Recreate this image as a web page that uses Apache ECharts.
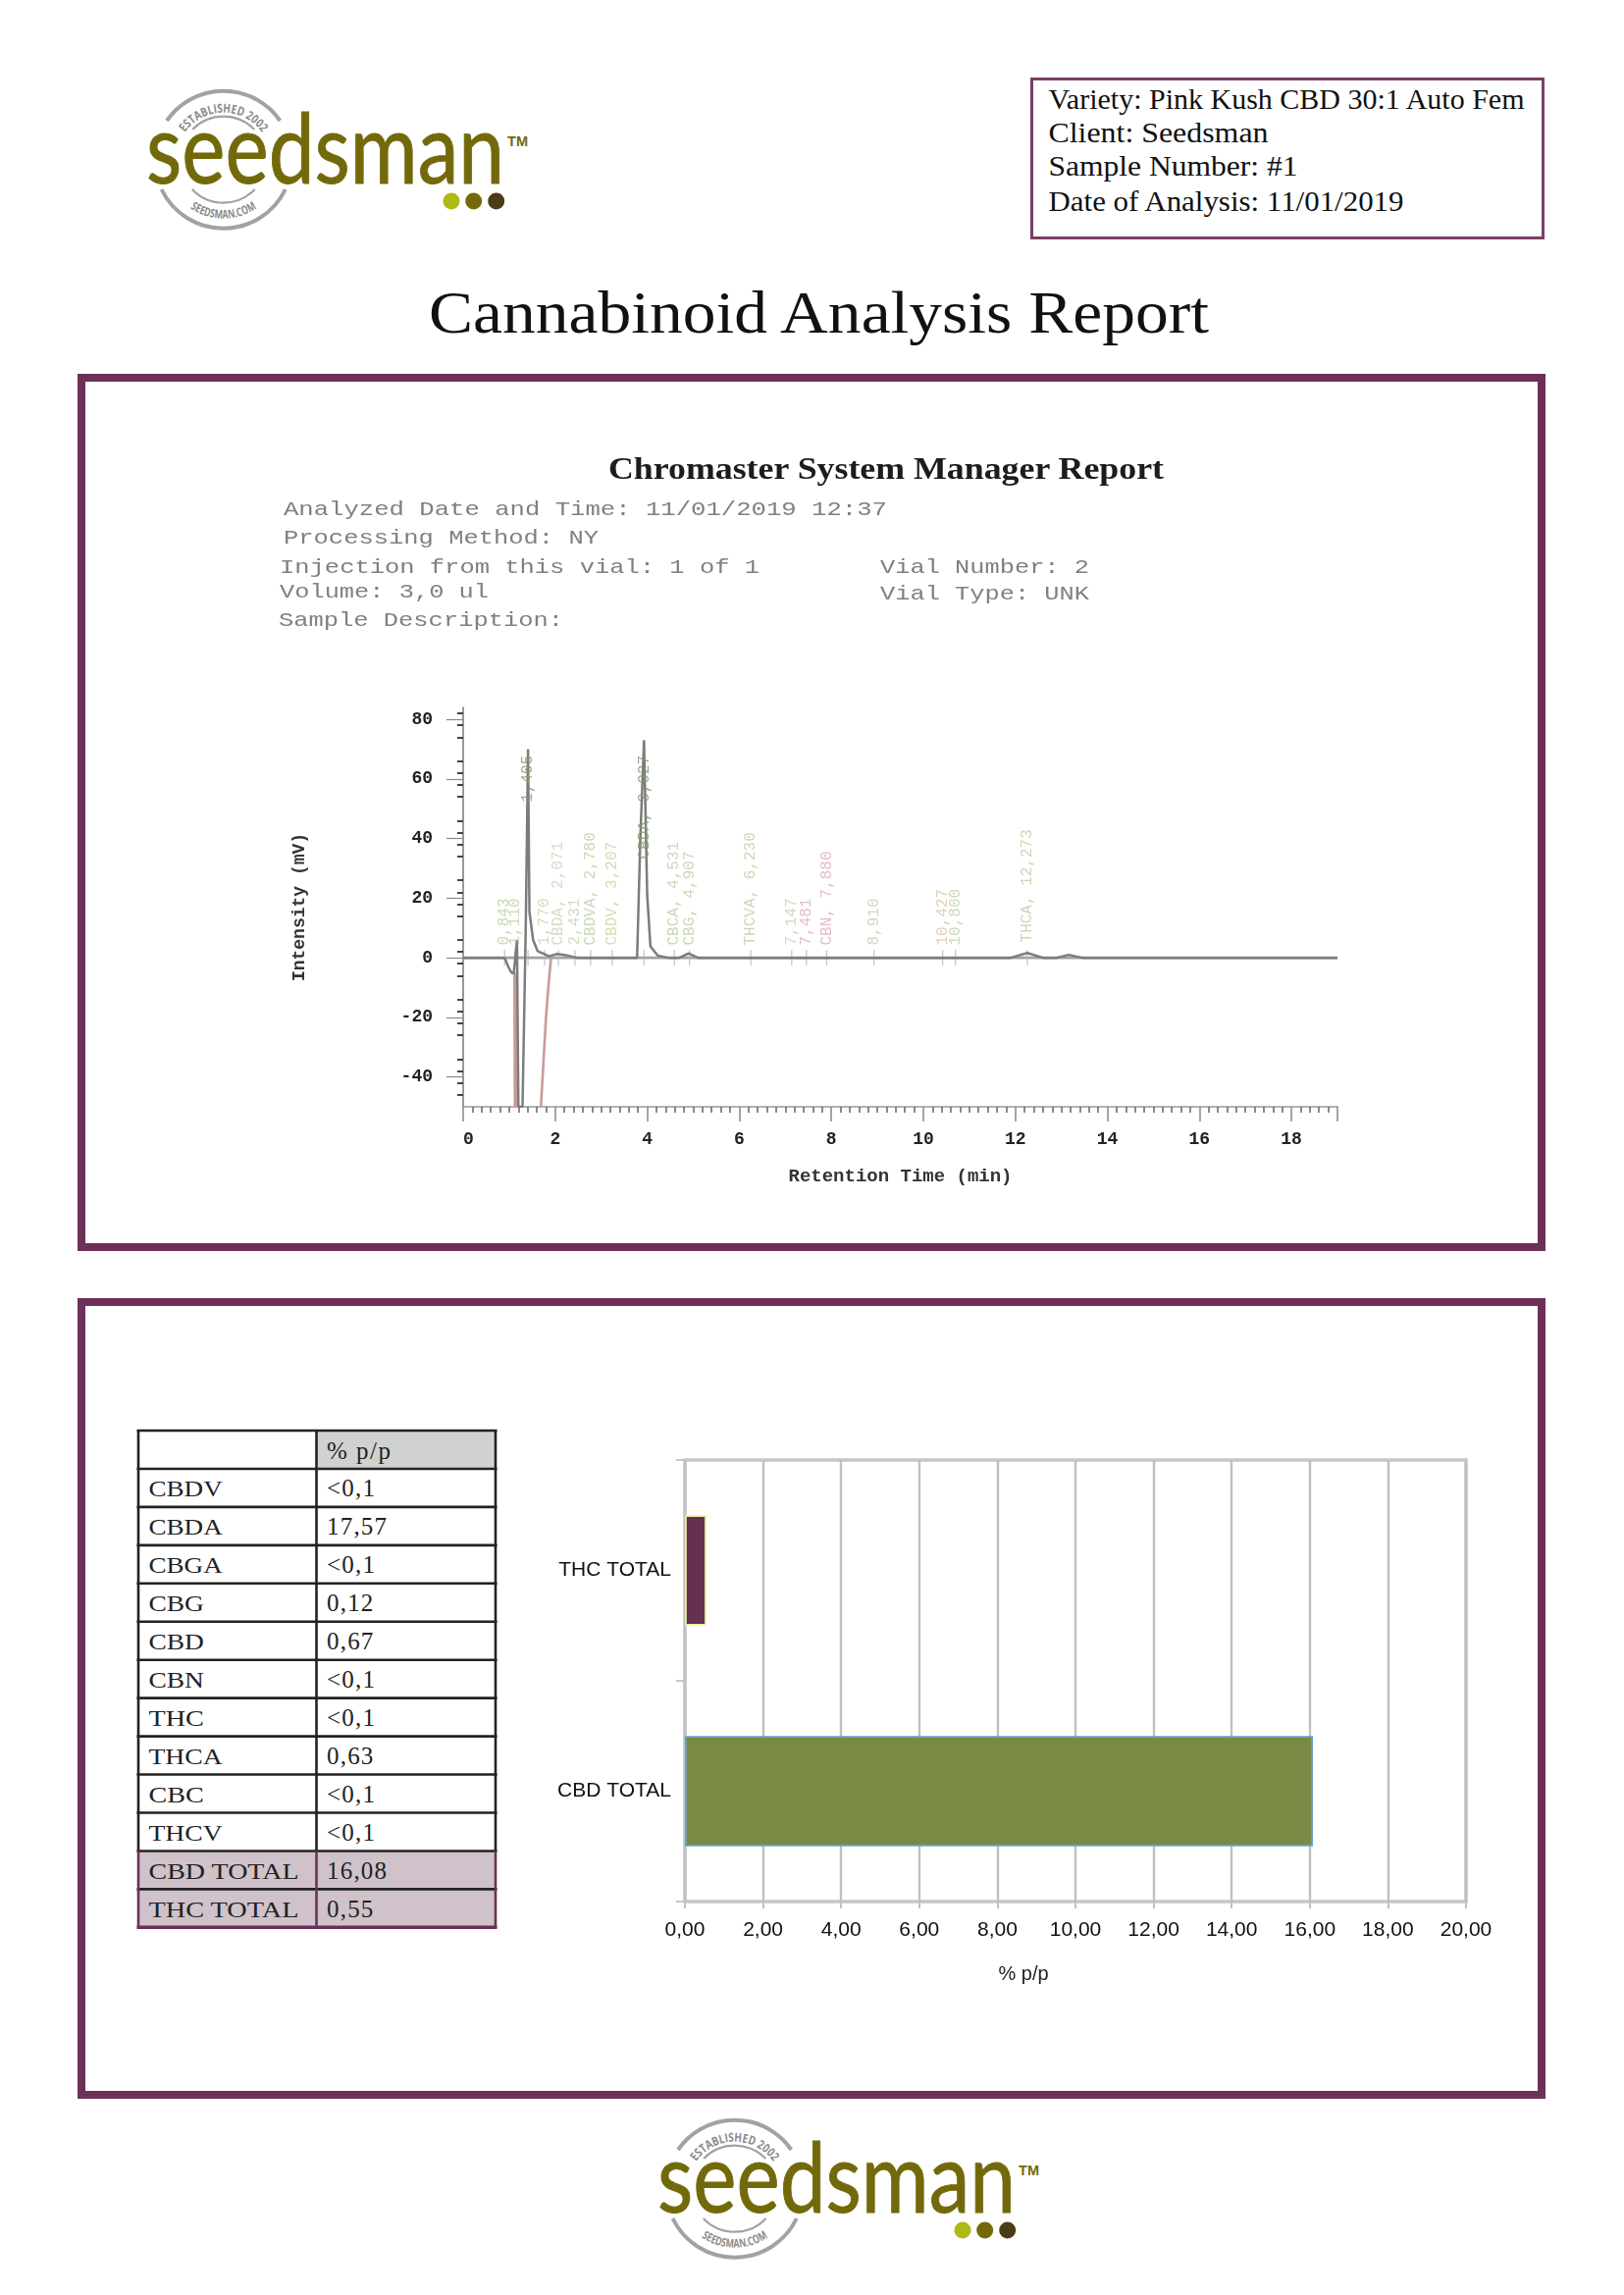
<!DOCTYPE html>
<html><head><meta charset="utf-8">
<style>
html,body{margin:0;padding:0;background:#fff;width:1655px;height:2339px;overflow:hidden}
#page{position:absolute;left:0;top:0}
#chromatogram{position:absolute;left:270px;top:690px;width:1130px;height:540px;filter:blur(0.7px)}
#barchart{position:absolute;left:540px;top:1460px;width:1010px;height:600px;filter:blur(0.3px)}
</style>
<script src="https://cdn.jsdelivr.net/npm/echarts@6/dist/echarts.min.js"></script>
</head><body>
<svg id="page" xmlns="http://www.w3.org/2000/svg" width="1655" height="2339" viewBox="0 0 1655 2339"></svg>
<div id="chromatogram"></div>
<div id="barchart"></div>
<script>
// ---- Data ----
const infoLines = ["Variety: Pink Kush CBD 30:1 Auto Fem","Client: Seedsman","Sample Number: #1","Date of Analysis: 11/01/2019"];
const reportTitle = "Cannabinoid Analysis Report";
const systemTitle = "Chromaster System Manager Report";
const systemLines = [
  ["Analyzed Date and Time: 11/01/2019 12:37",289,525,615],
  ["Processing Method: NY",289,554,321],
  ["Injection from this vial: 1 of 1",285,584,489],
  ["Vial Number: 2",897,584,213],
  ["Volume: 3,0 ul",285,609,213],
  ["Vial Type: UNK",897,611,213],
  ["Sample Description:",284,638,290]
];
const tableCompounds = ["CBDV","CBDA","CBGA","CBG","CBD","CBN","THC","THCA","CBC","THCV","CBD TOTAL","THC TOTAL"];
const tableValues = ["<0,1","17,57","<0,1","0,12","0,67","<0,1","<0,1","0,63","<0,1","<0,1","16,08","0,55"];

const traceTime = [0,0.85,0.91,0.98,1.05,1.10,1.17,1.20,1.29,1.36,1.41,1.44,1.52,1.62,1.87,2.04,2.23,2.47,3.6,3.78,3.85,3.93,4.00,4.07,4.23,4.46,4.70,4.90,5.10,6,8,10,11.9,12.26,12.6,12.9,13.16,13.45,15,17,19];
const traceMv   = [0,0,-0.3,-3,-5,-5.2,6,-50,-50,10,70,15.5,6,2.2,0.5,1.3,0.9,0,0,0,40,73,20.9,3.8,0.7,0,0,1.5,0,0,0,0,0,1.6,0,0,1,0,0,0,0];
const baseTime = [0,19];
const baseMv = [0,0];
const redLeftTime = [1.13,1.14];
const redLeftMv = [-5,-50];
const redRightTime = [1.69,1.80,1.856,1.91];
const redRightMv = [-50,-20,-9,0];

const peakTime  = [0.90,1.13,1.41,1.77,2.07,2.43,2.77,3.24,3.93,4.59,4.92,6.25,7.14,7.46,7.90,8.93,10.42,10.70,12.26];
const peakText  = ["0,843","1,110","1,405","1,770","CBDA, 2,071","2,431","CBDVA, 2,780","CBDV, 3,207","CBDA, 3,927","CBCA, 4,531","CBG, 4,907","THCVA, 6,230","7,147","7,481","CBN, 7,880","8,910","10,427","10,800","THCA, 12,273"];
const peakLabelMv = [4,4,52,4,4,4,4,4,33,4,4,4,4,4,4,4,4,4,5];
const peakTone  = ["#bcd0a4","#bcd0a4","#7f9a6a","#c6d6b2","#c6d6b2","#c6d6b2","#bcd0a4","#c8d69e","#7f9a6a","#bcd0a4","#bcd0a4","#bcd0a4","#c6cfb4","#dcaeb4","#dcaeb4","#c4ceb6","#d6c6a4","#bcd0b4","#bcd0a4"];

const barCategories = ["CBD TOTAL","THC TOTAL"];
const barValues = [16.08,0.55];
const barFill = ["#7a8a45","#66304f"];
const barEdge = ["#6a9fc9","#eeee9c"];
const xTickFormat = v => v.toFixed(2).replace('.',',');

// ---- Page furniture (frames, headings, table, logos) ----
const PURPLE = "#6d3058";
let s = "";
function rect(x,y,w,h,fill,stroke,sw){return `<rect x="${x}" y="${y}" width="${w}" height="${h}" fill="${fill}" stroke="${stroke||'none'}" stroke-width="${sw||0}"/>`;}
function esc(t){return t.replace(/&/g,'&amp;').replace(/</g,'&lt;');}
function text(t,x,y,size,fam,fill,extra){return `<text x="${x}" y="${y}" font-size="${size}" font-family="${fam}" fill="${fill}" ${extra||''}>${esc(t)}</text>`;}
const SERIF = "'Liberation Serif'";
const MONO = "'Liberation Mono'";

// logo definition
s += `<defs><g id="logo">
<path d="M170,123 A70,70 0 0 1 285.4,123" fill="none" stroke="#a2a2a2" stroke-width="4"/>
<path d="M164.6,193 A70,70 0 0 0 290.8,193" fill="none" stroke="#a2a2a2" stroke-width="4"/>
<path d="M196.2,132 A44,44 0 0 1 259.2,132" fill="none" stroke="#a2a2a2" stroke-width="2.2"/>
<path d="M195.8,193 A44,44 0 0 0 259.6,193" fill="none" stroke="#a2a2a2" stroke-width="2.2"/>
<path id="arcTop" d="M179.7,162.7 A48,48 0 0 1 275.7,162.7" fill="none"/>
<path id="arcBot" d="M167.7,162.7 A60,60 0 0 0 287.7,162.7" fill="none"/>
<text font-size="12.5" font-family="'Open Sans'" font-weight="700" fill="#8c8c8c"><textPath href="#arcTop" startOffset="50%" text-anchor="middle" textLength="92" lengthAdjust="spacingAndGlyphs">ESTABLISHED 2002</textPath></text>
<text font-size="12" font-family="'Open Sans'" font-weight="700" fill="#8c8c8c"><textPath href="#arcBot" startOffset="50%" text-anchor="middle" textLength="72" lengthAdjust="spacingAndGlyphs">SEEDSMAN.COM</textPath></text>
<text x="149" y="186.5" font-size="98" font-family="Lato" fill="#726a0a" stroke="#726a0a" stroke-width="0.9" textLength="365" lengthAdjust="spacingAndGlyphs">seedsman</text>
<text x="517" y="149" font-size="15" font-family="'Liberation Sans'" font-weight="700" fill="#726a0a" textLength="21" lengthAdjust="spacingAndGlyphs">TM</text>
<circle cx="460" cy="205" r="8.5" fill="#b0b814"/><circle cx="482.7" cy="205" r="8.5" fill="#726a0a"/><circle cx="505.7" cy="205" r="8.5" fill="#4a3d15"/>
</g></defs>`;
s += `<use href="#logo"/><use href="#logo" transform="translate(521,2068)"/>`;

// info box
s += rect(1051.5,80.5,521,162,"#fff","#7a3f66",3);
const infoW = [485,224,254,362], infoY = [111,145,179,215];
infoLines.forEach((t,i)=>{ s += text(t,1068.5,infoY[i],29,SERIF,"#111",`textLength="${infoW[i]}" lengthAdjust="spacingAndGlyphs"`); });

// title
s += text(reportTitle,437,339,62,SERIF,"#111",`textLength="795" lengthAdjust="spacingAndGlyphs"`);

// frames
s += rect(83,385,1488,886,"#fff",PURPLE,8);
s += rect(83,1327,1488,808,"#fff",PURPLE,8);

// system header
s += `<g style="filter:blur(0.5px)">`;
s += text(systemTitle,620,487.5,31,SERIF,"#1c1c1c",`font-weight="700" textLength="566" lengthAdjust="spacingAndGlyphs"`);
systemLines.forEach(l=>{ s += text(l[0],l[1],l[2],21,MONO,"#808080",`textLength="${l[3]}" lengthAdjust="spacingAndGlyphs"`); });
s += `</g>`;

// table
const tL=141,tM=322.5,tR=505,tT=1458,rowH=38.95;
s += rect(tM,tT,tR-tM,rowH,"#d0d2d0");
const nRows = tableCompounds.length+1;
s += rect(tL,tT+rowH*11,tR-tL,rowH*2,"#cfc2cb");
for(let r=0;r<=nRows;r++){
  const y=tT+r*rowH; const col = r===13 ? PURPLE : "#222";
  s += `<line x1="${tL-1.5}" x2="${tR+1.5}" y1="${y}" y2="${y}" stroke="${col}" stroke-width="${r===13?3.5:2.6}"/>`;
}
[tL,tM,tR].forEach(x=>{
  s += `<line x1="${x}" x2="${x}" y1="${tT}" y2="${tT+rowH*11}" stroke="#222" stroke-width="2.6"/>`;
  s += `<line x1="${x}" x2="${x}" y1="${tT+rowH*11}" y2="${tT+rowH*13}" stroke="${PURPLE}" stroke-width="2.6"/>`;
});
s += text("% p/p",333,tT+29,25,SERIF,"#222",'letter-spacing="1.5"');
tableCompounds.forEach((c,i)=>{
  const y=tT+rowH*(i+1)+28.5;
  s += text(c,151.5,y,24,SERIF,"#222",`textLength="${c.length>5?153:c.length*18.8}" lengthAdjust="spacingAndGlyphs"`);
  s += text(tableValues[i],333,y,25,SERIF,"#222",'letter-spacing="1.2"');
});
document.getElementById('page').innerHTML = s;

// ---- Chromatogram ----
const zip = (a,b)=>a.map((v,i)=>[v,b[i]]);
const mono = "'Liberation Mono'";
const chrom = echarts.init(document.getElementById('chromatogram'));
chrom.setOption({
  animation:false,
  grid:{left:202,right:37,top:31,bottom:102},
  xAxis:{type:'value',min:0,max:19,interval:2,
    name:'Retention Time (min)',nameLocation:'middle',nameGap:62,
    nameTextStyle:{fontFamily:mono,fontSize:19,fontWeight:'bold',color:'#333'},
    axisLine:{lineStyle:{color:'#999',width:1.5},onZero:false},
    axisTick:{length:15,lineStyle:{color:'#888',width:1.5}},
    minorTick:{show:true,splitNumber:10,length:6,lineStyle:{color:'#666',width:1.5}},
    splitLine:{show:false},
    axisLabel:{fontFamily:mono,fontSize:18,fontWeight:'bold',color:'#222',margin:24,showMaxLabel:false,alignMinLabel:'left'}},
  yAxis:{type:'value',min:-50,max:84,interval:20,
    name:'Intensity (mV)',nameLocation:'middle',nameGap:158,nameRotate:90,
    nameTextStyle:{fontFamily:mono,fontSize:18,fontWeight:'bold',color:'#333'},
    axisLine:{onZero:false,lineStyle:{color:'#777',width:1.5}},
    axisTick:{length:17,lineStyle:{color:'#888',width:1.2},customValues:[80,60,40,20,0,-20,-40]},
    minorTick:{show:true,splitNumber:5,length:6,lineStyle:{color:'#444',width:2}},
    splitLine:{show:false},
    axisLabel:{fontFamily:mono,fontSize:18,fontWeight:'bold',color:'#222',margin:31,
      customValues:[80,60,40,20,0,-20,-40]}},
  series:[
    {name:'baseline',type:'line',data:zip(baseTime,baseMv),showSymbol:false,silent:true,lineStyle:{color:'#a8a0a0',width:2.6},z:2},
    {name:'integration left',type:'line',data:zip(redLeftTime,redLeftMv),showSymbol:false,silent:true,lineStyle:{color:'#c99a9a',width:4},z:3},
    {name:'integration right',type:'line',data:zip(redRightTime,redRightMv),showSymbol:false,silent:true,lineStyle:{color:'#c99a9a',width:2.6},z:3},
    {name:'signal',type:'line',data:zip(traceTime,traceMv),showSymbol:false,silent:true,lineStyle:{color:'#7c7c7c',width:2.5},z:4},
    {name:'peak ticks',type:'scatter',data:peakTime.map(t=>[t,0]),symbol:'rect',symbolSize:[1.2,16],silent:true,itemStyle:{color:'#a8b8b8'},z:3},
    {name:'peak labels',type:'scatter',symbol:'circle',symbolSize:1,silent:true,z:5,itemStyle:{color:'rgba(255,255,255,0)'},
      data:peakTime.map((t,i)=>({value:[t,peakLabelMv[i]],
        label:{show:true,formatter:peakText[i],position:'top',distance:0,rotate:90,align:'left',verticalAlign:'middle',
          fontFamily:mono,fontSize:16,color:peakTone[i]}}))}
  ]
});

// ---- Bar chart ----
const bars = echarts.init(document.getElementById('barchart'));
bars.setOption({
  animation:false,
  grid:{left:158,top:28,width:796,height:450,show:true,borderColor:'#c6c6c6',borderWidth:3.5,backgroundColor:'transparent'},
  xAxis:{type:'value',min:0,max:20,interval:2,
    name:'% p/p',nameLocation:'middle',nameGap:64,
    nameTextStyle:{fontFamily:"'Liberation Sans'",fontSize:20,color:'#222',padding:[0,106,0,0]},
    axisLine:{show:false},axisTick:{show:true,length:7,lineStyle:{color:'#c0c0c0',width:2}},
    splitLine:{show:true,lineStyle:{color:'#c0c0c0',width:2.4}},
    axisLabel:{fontFamily:"'Liberation Sans'",fontSize:21,color:'#111',margin:19,formatter:xTickFormat}},
  yAxis:{type:'category',data:barCategories,
    axisLine:{show:false},axisTick:{show:true,length:9,lineStyle:{color:'#c6c6c6',width:2}},
    axisLabel:{fontFamily:"'Liberation Sans'",fontSize:21,color:'#111',margin:14}},
  series:[{type:'bar',barWidth:'50%',silent:true,z:3,
    data:barValues.map((v,i)=>({value:v,itemStyle:{color:barFill[i],borderColor:barEdge[i],borderWidth:1.8}}))}]
});
</script>
</body></html>
